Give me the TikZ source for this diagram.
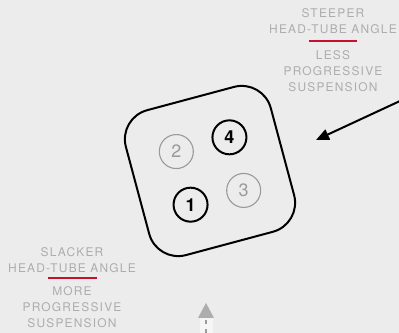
\documentclass[tikz,border=0pt]{standalone}
\usepackage{fontspec}
\setmainfont{TeX Gyre Heros}
\usetikzlibrary{arrows.meta,positioning,calc}
\definecolor{paper}{HTML}{ECECEC}
\definecolor{notegray}{HTML}{ADADAD}
\definecolor{holegray}{HTML}{9A9A9A}
\definecolor{accent}{HTML}{C8102E}
\definecolor{stripe}{HTML}{F5F5F5}

\begin{document}
\begin{tikzpicture}[x=1bp, y=1bp,
  note/.style={align=center, text=notegray, inner sep=0pt,
    font=\fontsize{12}{16}\selectfont\addfontfeature{LetterSpace=10}},
  divider/.style={accent, line width=1.5bp},
  plate/.style={rectangle, draw, line width=2bp, rounded corners=30bp, minimum size=150bp},
  hole/.style={circle, minimum size=34bp, inner sep=0pt},
  active/.style={hole, draw, line width=2bp, font=\fontsize{18}{18}\selectfont\bfseries},
  inactive/.style={hole, draw=holegray, line width=1.1bp, text=holegray, font=\fontsize{18}{18}\selectfont},
  arr/.style={-{Triangle[length=13bp, width=11bp]}, line width=2bp}
]
  \fill[paper] (0,0) rectangle (399,333);
  \useasboundingbox (0,0) rectangle (399,333);

  % labels, upper right
  \node[note] (steeper) at (333,312) {STEEPER\\HEAD-TUBE ANGLE};
  \node[note] (less) at (333,262) {LESS\\PROGRESSIVE\\SUSPENSION};
  \draw[divider] (309,292) -- (357,292);

  % labels, lower left
  \node[note] (slacker) at (72,73) {SLACKER\\HEAD-TUBE ANGLE};
  \node[note] (more) at (72,26) {MORE\\PROGRESSIVE\\SUSPENSION};
  \draw[divider] (48,55) -- (97,55);

  % flip chip
  \begin{scope}[shift={(210,162)}, rotate=15]
    \node[plate, rotate=15] (plate) at (0,0) {};
    \node[inactive] (hole2) at (-27.5,27.5) {2};
    \node[active] (hole4) at (27.5,27.5) {4};
    \node[active] (hole1) at (-27.5,-27.5) {1};
    \node[inactive] (hole3) at (27.5,-27.5) {3};
  \end{scope}

  % arrows
  \coordinate (pushtail) at (400,232);
  \coordinate (pushtip) at (316,193);
  \draw[arr] (pushtail) -- (pushtip);

  \coordinate (liftfoot) at (206,0);
  \coordinate (lifttip) at (206,30);
  \fill[stripe] (199.5,0) rectangle (212.5,15);
  \draw[holegray, line width=2bp, dash pattern=on 4bp off 5bp] (liftfoot) -- ++(0,15);
  \fill[notegray] (lifttip) -- ++(-8,-15) -- ++(16,0) -- cycle;
\end{tikzpicture}
\end{document}
